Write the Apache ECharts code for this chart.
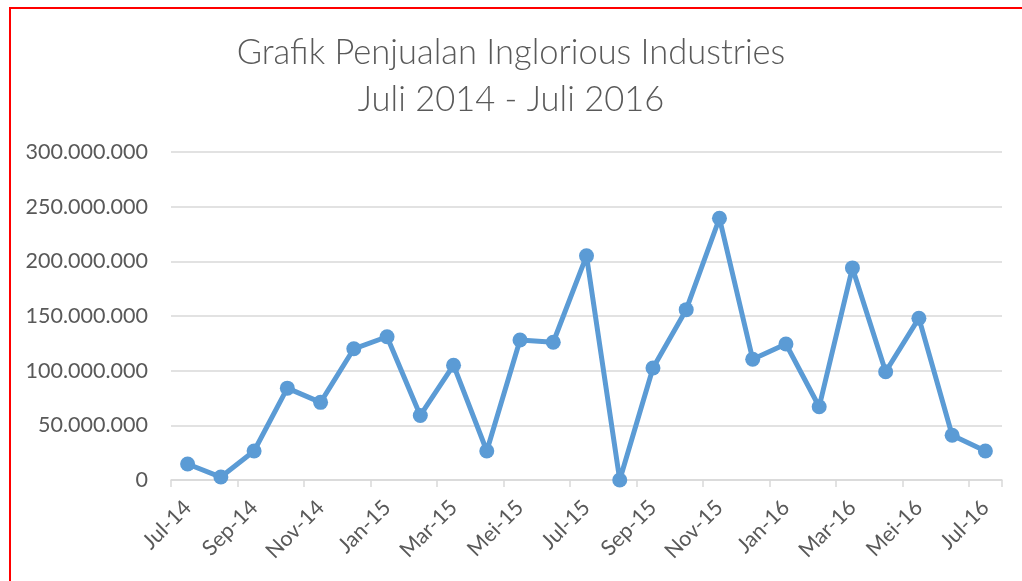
<!DOCTYPE html>
<html>
<head>
<meta charset="utf-8">
<script src="https://cdn.jsdelivr.net/npm/echarts@6/dist/echarts.min.js"></script>
<style>
html,body{margin:0;padding:0;background:#fff;}
#chart{width:1022px;height:581px;}
</style>
</head>
<body>
<div id="chart"></div>
<script>
const categories = ['Jul-14','Agu-14','Sep-14','Okt-14','Nov-14','Des-14','Jan-15','Feb-15','Mar-15','Apr-15','Mei-15','Jun-15','Jul-15','Agu-15','Sep-15','Okt-15','Nov-15','Des-15','Jan-16','Feb-16','Mar-16','Apr-16','Mei-16','Jun-16','Jul-16'];
const sales = [14600000, 2700000, 26500000, 84000000, 71000000, 120000000, 131000000, 59000000, 105000000, 26500000, 128000000, 126000000, 205000000, 0, 102500000, 155800000, 239400000, 110400000, 124400000, 67000000, 194000000, 99000000, 148000000, 40900000, 26500000];
const titleLines = ['Grafik Penjualan Inglorious Industries', 'Juli 2014 - Juli 2016'];
const yTicks = [0, 50000000, 100000000, 150000000, 200000000, 250000000, 300000000];

const FONT = 'Lato';
const chart = echarts.init(document.getElementById('chart'), null, {renderer: 'canvas'});
function fmt(v){ return v === 0 ? '0' : String(v).replace(/\B(?=(\d{3})+(?!\d))/g, '.'); }
chart.setOption({
  animation: false,
  backgroundColor: '#ffffff',
  title: {
    text: titleLines.join('\n'),
    left: 'center',
    top: 24,
    textStyle: {fontFamily: FONT, fontSize: 34.5, fontWeight: 300, color: '#595959', lineHeight: 47}
  },
  graphic: [{
    type: 'rect', shape: {x: 10, y: 8, width: 1200, height: 800},
    style: {fill: 'none', stroke: '#ff0000', lineWidth: 2}, z: 100, silent: true
  }],
  grid: {left: 171, right: 20, top: 152, bottom: 101, containLabel: false},
  xAxis: {
    type: 'category',
    data: categories,
    boundaryGap: true,
    axisLine: {lineStyle: {color: '#d9d9d9', width: 1.5}},
    axisTick: {show: true, interval: 1, length: 7, lineStyle: {color: '#d9d9d9', width: 1.5}},
    axisLabel: {interval: 1, rotate: 45, margin: 24, fontFamily: FONT, fontSize: 21.5, color: '#595959'},
    splitLine: {show: false}
  },
  yAxis: {
    type: 'value',
    min: yTicks[0], max: yTicks[yTicks.length-1], interval: 50000000,
    axisLine: {show: false}, axisTick: {show: false},
    axisLabel: {margin: 23, fontFamily: FONT, fontSize: 21.5, color: '#595959', formatter: fmt},
    splitLine: {lineStyle: {color: '#d9d9d9', width: 1.5}}
  },
  series: [{
    type: 'line',
    data: sales,
    symbol: 'circle',
    symbolSize: 15,
    itemStyle: {color: '#5b9bd5'},
    lineStyle: {color: '#5b9bd5', width: 5},
    z: 3
  }]
});
</script>
</body>
</html>
